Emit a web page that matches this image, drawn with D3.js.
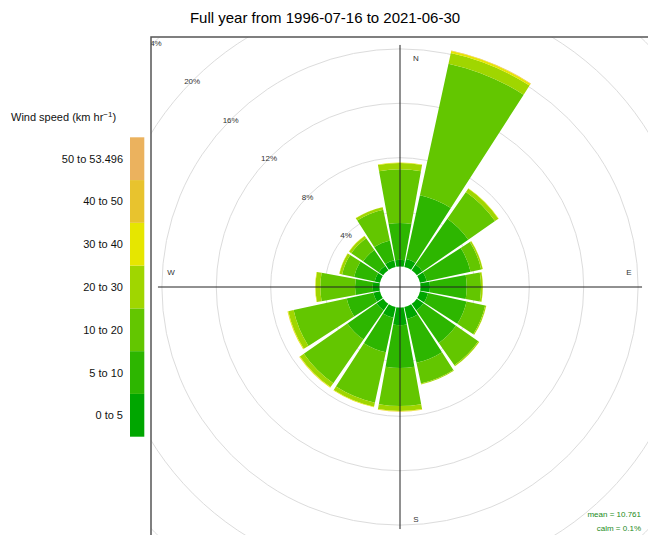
<!DOCTYPE html>
<html>
<head>
<meta charset="utf-8">
<script src="https://cdn.jsdelivr.net/npm/d3@7"></script>
<style>
  body { margin: 0; background: #fff; }
  svg { display: block; font-family: "Liberation Sans", Arial, sans-serif; }
</style>
</head>
<body>
<div class="chart"></div>
<script>
  //Data
  var directions = ['N','NNE','NE','ENE','E','ESE','SE','SSE','S','SSW','SW','WSW','W','WNW','NW','NNW'];
  var speedBins = ['0 to 5','5 to 10','10 to 20','20 to 30','30 to 40','40 to 50','50 to 53.496'];
  var binColors = ['#00A600','#2DB600','#63C600','#A0D600','#E6E600','#E8C32E','#EBB25E'];
  //Percent of time per direction for each speed bin
  var pct0to5   = [0.5, 0.6, 0.5, 0.5, 0.7, 0.6, 0.6, 0.9, 1.3, 0.8, 0.6, 0.5, 0.5, 0.4, 0.4, 0.5];
  var pct5to10  = [2.7, 4.8, 4.1, 3.3, 2.7, 2.9, 2.9, 3.3, 3.15, 2.6, 2.6, 2.0, 1.3, 1.55, 1.4, 1.5];
  var pct10to20 = [3.95, 9.9, 2.4, 0.8, 1.05, 1.4, 2.0, 1.55, 2.8, 3.8, 3.9, 4.0, 2.55, 0.9, 1.05, 2.3];
  var pct20to30 = [0.45, 0.8, 0.3, 0.12, 0.13, 0.08, 0.08, 0.06, 0.35, 0.3, 0.35, 0.4, 0.35, 0.2, 0.2, 0.2];
  var pct30to40 = [0.05, 0.15, 0.03, 0.01, 0.01, 0.01, 0.01, 0.01, 0.05, 0.04, 0.05, 0.05, 0.03, 0.02, 0.02, 0.02];
  var pct40to50 = [0, 0.03, 0, 0, 0, 0, 0, 0, 0.01, 0, 0.01, 0.01, 0, 0, 0, 0];
  var pct50plus = [0, 0.01, 0, 0, 0, 0, 0, 0, 0, 0, 0, 0, 0, 0, 0, 0];
  var gridTicks = [4, 8, 12, 16, 20, 24];
  var meanSpeed = 10.761;
  var calmPct = 0.1;
  var title = 'Full year from 1996-07-16 to 2021-06-30';

  var width = 648, height = 535;
  var cx = 400, cy = 287;
  var panel = { x: 151, y: 37 };
  var sectorWidth = 360 / directions.length;

  var series = [pct0to5, pct5to10, pct10to20, pct20to30, pct30to40, pct40to50, pct50plus];

  var svg = d3.select('.chart').append('svg').attr('width', width).attr('height', height);

  //Title
  svg.append('text').attr('x', 325).attr('y', 23).attr('text-anchor', 'middle')
    .style('font-size', '15px').style('fill', '#000').text(title);

  //Panel clip
  svg.append('clipPath').attr('id', 'panelclip').append('rect')
    .attr('x', panel.x).attr('y', panel.y).attr('width', width - panel.x).attr('height', height - panel.y);

  var rScale = d3.scaleLinear().domain([0, 24]).range([20.5, 20.5 + 13.6 * 24]);

  var plot = svg.append('g').attr('clip-path', 'url(#panelclip)');
  var g = plot.append('g').attr('transform', 'translate(' + cx + ',' + cy + ')');

  //Grid circles
  g.selectAll('.grid').data(gridTicks).enter().append('circle')
    .attr('r', function(d){ return rScale(d); })
    .style('fill', 'none').style('stroke', '#dcdcdc').style('stroke-width', 1);

  //Stack bins
  var stacks = directions.map(function(dir, i){
    var cum = 0;
    return series.map(function(s, j){
      var d = { dir: dir, angle: i * sectorWidth, bin: j, lo: cum, hi: cum + s[i] };
      cum += s[i];
      return d;
    });
  });
  var totals = stacks.map(function(s){ return s[s.length - 1].hi; });
  var maxR = rScale(d3.max(totals));

  var arc = d3.arc()
    .innerRadius(function(d){ return rScale(d.lo); })
    .outerRadius(function(d){ return rScale(d.hi); })
    .startAngle(function(d){ return (d.angle - sectorWidth / 2 + 1) * Math.PI / 180; })
    .endAngle(function(d){ return (d.angle + sectorWidth / 2 - 1) * Math.PI / 180; });

  g.selectAll('.sector').data(stacks).enter().append('g').attr('class', 'sector')
    .selectAll('path').data(function(d){ return d.filter(function(b){ return b.hi > b.lo; }); })
    .enter().append('path')
    .attr('d', arc)
    .style('fill', function(d){ return binColors[d.bin]; });

  //Cross lines
  g.append('line').attr('x1', -maxR).attr('x2', maxR).attr('y1', 0).attr('y2', 0)
    .style('stroke', '#222').style('stroke-width', 1);
  g.append('line').attr('y1', -maxR).attr('y2', maxR).attr('x1', 0).attr('x2', 0)
    .style('stroke', '#222').style('stroke-width', 1);

  //Percent labels (along the NW diagonal)
  g.selectAll('.plabel').data(gridTicks).enter().append('text')
    .attr('x', function(d){ return -rScale(d) * Math.SQRT1_2 - 1; })
    .attr('y', function(d){ return -rScale(d) * Math.SQRT1_2 + 4; })
    .attr('text-anchor', 'middle')
    .style('font-size', '8px').style('fill', '#333')
    .text(function(d){ return d + '%'; });

  //Compass labels
  var compass = [
    { t: 'N', x: 16, y: -maxR + 16 },
    { t: 'E', x: maxR - 13, y: -12 },
    { t: 'S', x: 16, y: maxR - 7 },
    { t: 'W', x: -maxR + 13, y: -12 }
  ];
  g.selectAll('.compass').data(compass).enter().append('text')
    .attr('x', function(d){ return d.x; }).attr('y', function(d){ return d.y; })
    .attr('text-anchor', 'middle')
    .style('font-size', '8px').style('fill', '#333')
    .text(function(d){ return d.t; });

  //Panel border
  svg.append('rect').attr('x', panel.x).attr('y', panel.y)
    .attr('width', width).attr('height', height)
    .style('fill', 'none').style('stroke', '#555').style('stroke-width', 1.5);

  //Mean / calm
  svg.append('text').attr('x', 641).attr('y', 517).attr('text-anchor', 'end')
    .style('font-size', '8px').style('fill', '#228B22').text('mean = ' + meanSpeed);
  svg.append('text').attr('x', 641).attr('y', 531).attr('text-anchor', 'end')
    .style('font-size', '8px').style('fill', '#228B22').text('calm = ' + calmPct + '%');

  //Key
  var key = svg.append('g');
  var kScale = d3.scaleBand().domain(speedBins.slice().reverse()).range([137.3, 436.7]);
  key.selectAll('rect').data(speedBins).enter().append('rect')
    .attr('x', 130).attr('width', 14.3)
    .attr('y', function(d){ return kScale(d); })
    .attr('height', kScale.bandwidth())
    .style('fill', function(d, i){ return binColors[i]; });
  key.selectAll('text.klabel').data(speedBins).enter().append('text').attr('class', 'klabel')
    .attr('x', 123).attr('y', function(d){ return kScale(d) + kScale.bandwidth() / 2 + 4; })
    .attr('text-anchor', 'end')
    .style('font-size', '11px').style('fill', '#111')
    .text(function(d){ return d; });
  var kt = key.append('text').attr('x', 11).attr('y', 121).style('font-size', '11px').style('fill', '#111');
  kt.append('tspan').text('Wind speed (km hr');
  kt.append('tspan').attr('dy', -4).style('font-size', '8px').text('\u22121');
  kt.append('tspan').attr('dy', 4).text(')');
</script>
</body>
</html>
